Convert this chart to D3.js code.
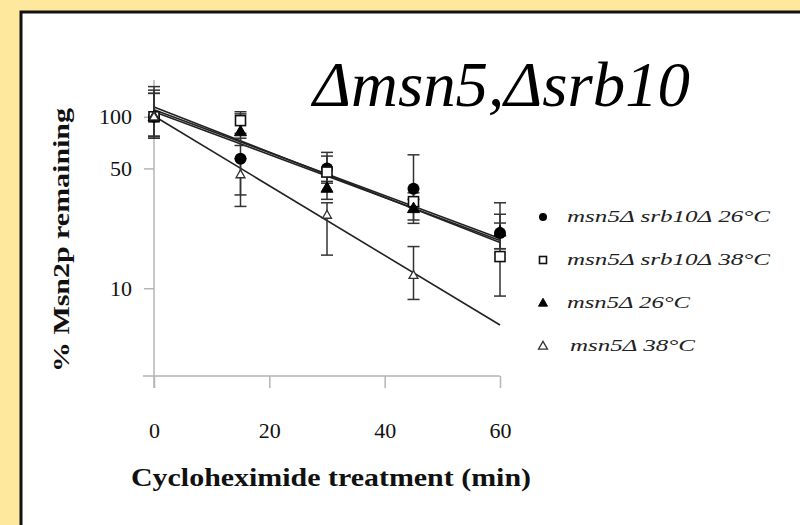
<!DOCTYPE html>
<html>
<head>
<meta charset="utf-8">
<script src="https://cdn.jsdelivr.net/npm/d3@7"></script>
<style>
  body { margin: 0; background: #fee89e; }
  svg { display: block; }
</style>
</head>
<body>
<svg id="chart"></svg>
<script>
// sampling times (min)
const times = [0, 15, 30, 45, 60];
const xTicks = [0, 20, 40, 60];
const yTicks = [10, 50, 100];

const seriesLabels = [
  "msn5\u0394 srb10\u0394 26\u00b0C",
  "msn5\u0394 srb10\u0394 38\u00b0C",
  "msn5\u0394 26\u00b0C",
  "msn5\u0394 38\u00b0C",
];
const seriesShapes = ["circle", "square", "triangle", "triangleOpen"];

// % Msn2p remaining, with lower / upper ends of error bars
const circleVals = [100, 57, 50, 38, 21];
const circleLo = [77, 35, 42, 30, 17];
const circleHi = [150, 75, 62, 60, 27];

const squareVals = [100, 95, 47.6, 32, 15.3];
const squareLo = [75, 80, 41, 25, 9.0];
const squareHi = [143, 107, 59, 36, 24];

const triVals = [100, 82, 38.4, 29.2, 21.3];
const triLo = [77, 68, 33, 23.9, 17];
const triHi = [137, 104, 45, 33, 31.5];

const openTriVals = [100, 46, 26.7, 11.9, null];
const openTriLo = [75, 30, 15.6, 8.6, null];
const openTriHi = [137, 57, 31.5, 17.5, null];

// fitted decay lines, value at t=0 and t=60
const fitStart = [110, 114, 107, 101];
const fitEnd = [19.5, 18.5, 19, 6.1];

const width = 800, height = 525;

const series = [
  { vals: circleVals, lo: circleLo, hi: circleHi },
  { vals: squareVals, lo: squareLo, hi: squareHi },
  { vals: triVals, lo: triLo, hi: triHi },
  { vals: openTriVals, lo: openTriLo, hi: openTriHi },
].map((s, i) => ({
  ...s,
  shape: seriesShapes[i],
  label: seriesLabels[i],
  fit: [fitStart[i], fitEnd[i]],
}));

const svg = d3.select("#chart").attr("width", width).attr("height", height);

// framed white panel
svg.append("rect")
  .attr("x", 21).attr("y", 12)
  .attr("width", width).attr("height", height)
  .attr("fill", "#fff")
  .attr("stroke", "#111")
  .attr("stroke-width", 3);

const x = d3.scaleLinear().domain([0, 60]).range([154, 500]);
const y = d3.scaleLog().domain([3.076, 163.9]).range([376, 80]);

const axisColor = "#b5b5b5";
const serif = "'Liberation Serif', 'Times New Roman', serif";

// axes
const xAxis = svg.append("g")
  .attr("transform", `translate(0, ${y.range()[0]})`)
  .call(d3.axisBottom(x).tickValues(xTicks).tickSize(12).tickPadding(34).tickSizeOuter(0));
xAxis.select(".domain").remove();
xAxis.append("line")
  .attr("x1", x.range()[0] - 11).attr("x2", x.range()[1])
  .attr("stroke", axisColor).attr("stroke-width", 1.5);

const yAxis = svg.append("g")
  .attr("transform", `translate(${x.range()[0]}, 0)`)
  .call(d3.axisLeft(y).tickValues(yTicks).tickFormat(d3.format("d")).tickSize(10).tickPadding(12).tickSizeOuter(0));
yAxis.select(".domain").remove();
yAxis.append("line")
  .attr("y1", y.range()[1]).attr("y2", y.range()[0] + 12)
  .attr("stroke", axisColor).attr("stroke-width", 1.5);

svg.selectAll(".tick line").attr("stroke", axisColor).attr("stroke-width", 1.5);
svg.selectAll(".tick text")
  .attr("fill", "#111")
  .style("font-family", serif)
  .style("font-size", "22px");

// axis titles
svg.append("text")
  .attr("x", 331).attr("y", 486)
  .attr("text-anchor", "middle")
  .attr("textLength", 400).attr("lengthAdjust", "spacingAndGlyphs")
  .style("font-family", serif).style("font-weight", "bold").style("font-size", "26px")
  .attr("fill", "#111")
  .text("Cycloheximide treatment (min)");

svg.append("text")
  .attr("transform", "translate(69, 240) rotate(-90)")
  .attr("text-anchor", "middle")
  .attr("textLength", 264).attr("lengthAdjust", "spacingAndGlyphs")
  .style("font-family", serif).style("font-weight", "bold").style("font-size", "24px")
  .attr("fill", "#111")
  .text("% Msn2p remaining");

// big title
svg.append("text")
  .attr("x", 313).attr("y", 106)
  .attr("textLength", 377).attr("lengthAdjust", "spacingAndGlyphs")
  .style("font-family", serif).style("font-style", "italic").style("font-size", "64px")
  .attr("fill", "#000")
  .text("\u0394msn5,\u0394srb10");

const plot = svg.append("g");

// fitted lines
plot.selectAll(".fit")
  .data(series)
  .join("line")
  .attr("class", "fit")
  .attr("x1", x(0)).attr("x2", x(60))
  .attr("y1", (d) => y(d.fit[0]))
  .attr("y2", (d) => y(d.fit[1]))
  .attr("stroke", "#222")
  .attr("stroke-width", 1.6);

// error bars
const capW = 6;
series.forEach((s) => {
  const pts = times
    .map((t, i) => ({ t, v: s.vals[i], lo: s.lo[i], hi: s.hi[i] }))
    .filter((p) => p.v != null);
  const g = plot.append("g").attr("stroke", "#333").attr("stroke-width", 1.5);
  g.selectAll(".bar").data(pts).join("line")
    .attr("x1", (p) => x(p.t)).attr("x2", (p) => x(p.t))
    .attr("y1", (p) => y(p.lo)).attr("y2", (p) => y(p.hi));
  ["lo", "hi"].forEach((k) => {
    g.selectAll(".cap-" + k).data(pts).join("line")
      .attr("x1", (p) => x(p.t) - capW).attr("x2", (p) => x(p.t) + capW)
      .attr("y1", (p) => y(p[k])).attr("y2", (p) => y(p[k]));
  });
});

// marker drawing
function drawMarker(sel, shape, size) {
  if (shape === "circle") {
    sel.append("circle").attr("r", size / 2).attr("fill", "#000");
  } else if (shape === "square") {
    sel.append("rect")
      .attr("x", -size / 2 + 1).attr("y", -size / 2 + 1)
      .attr("width", size - 2).attr("height", size - 2)
      .attr("fill", "#fff").attr("stroke", "#111").attr("stroke-width", 1.6);
  } else {
    const h = size * 0.87;
    const p = `M0,${-h * 0.6}L${size / 2},${h * 0.4}L${-size / 2},${h * 0.4}Z`;
    const open = shape === "triangleOpen";
    sel.append("path").attr("d", p)
      .attr("fill", open ? "#fff" : "#000")
      .attr("stroke", open ? "#333" : "#000")
      .attr("stroke-width", open ? 1.3 : 1);
  }
}

series.forEach((s) => {
  const pts = times
    .map((t, i) => ({ t, v: s.vals[i] }))
    .filter((p) => p.v != null);
  plot.selectAll(null).data(pts).join("g")
    .attr("transform", (p) => `translate(${x(p.t)}, ${y(p.v)})`)
    .each(function () {
      drawMarker(d3.select(this), s.shape, s.shape === "triangleOpen" ? 9 : 12);
    });
});

// legend
const legend = svg.append("g");
const legendY = d3.scalePoint().domain(seriesLabels).range([217, 346]);
const legendLen = [203, 203, 123, 125];
series.forEach((s, i) => {
  const row = legend.append("g").attr("transform", `translate(543, ${legendY(s.label)})`);
  drawMarker(row, s.shape, s.shape === "circle" ? 8 : 9);
  row.append("text")
    .attr("x", s.shape === "triangleOpen" ? 27 : 24).attr("y", 5)
    .attr("textLength", legendLen[i]).attr("lengthAdjust", "spacingAndGlyphs")
    .style("font-family", serif).style("font-style", "italic").style("font-size", "16px")
    .attr("fill", "#222")
    .text(s.label);
});
</script>
</body>
</html>
